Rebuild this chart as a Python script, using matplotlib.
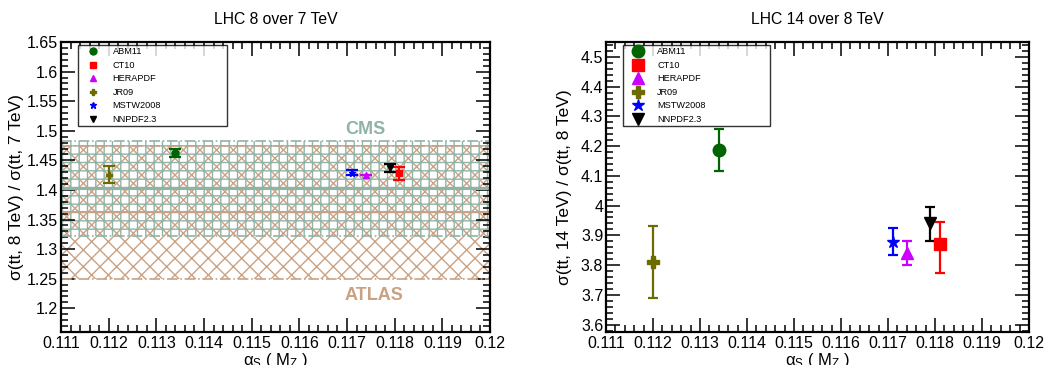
import matplotlib
matplotlib.use("Agg")
import matplotlib.pyplot as plt
from matplotlib.ticker import MultipleLocator, FuncFormatter
from matplotlib.lines import Line2D

plt.rcParams['font.family'] = ['Liberation Sans', 'DejaVu Sans']
plt.rcParams['mathtext.default'] = 'regular'
plt.rcParams['hatch.linewidth'] = 1.0

pdfs = ["ABM11", "CT10", "HERAPDF", "JR09", "MSTW2008", "NNPDF2.3"]
colors = ["#006400", "#ff0000", "#cc00ff", "#6b6b00", "#0000ff", "#000000"]
markers = ["o", "s", "^", "P", "*", "v"]
alphas = [0.1134, 0.1181, 0.1174, 0.1120, 0.1171, 0.1179]

# LHC 8/7 ratios
r87 = [1.463, 1.428, 1.426, 1.425, 1.429, 1.437]
r87_lo = [0.007, 0.011, 0.0, 0.014, 0.004, 0.007]
r87_hi = [0.007, 0.010, 0.0, 0.015, 0.004, 0.007]

# LHC 14/8 ratios
r148 = [4.188, 3.870, 3.841, 3.809, 3.879, 3.940]
r148_lo = [0.072, 0.098, 0.040, 0.121, 0.045, 0.058]
r148_hi = [0.070, 0.076, 0.041, 0.121, 0.046, 0.056]

# Experimental bands (8/7): low, central, high
cms_band = (1.322, 1.402, 1.482)
atlas_band = (1.249, 1.362, 1.475)

fig = plt.figure(figsize=(10.52, 3.65), dpi=100)
W, H = 1052, 365
ax1 = fig.add_axes([61 / W, 1 - 332 / H, (490 - 61) / W, (332 - 42) / H])
ax2 = fig.add_axes([606 / W, 1 - 332 / H, (1029 - 606) / W, (332 - 42) / H])

fmt = FuncFormatter(lambda v, p: "%g" % round(v, 6))


def style(ax, ymaj, ymin):
    ax.set_xlim(0.111, 0.12)
    ax.xaxis.set_major_locator(MultipleLocator(0.001))
    ax.xaxis.set_minor_locator(MultipleLocator(0.0002))
    ax.yaxis.set_major_locator(MultipleLocator(ymaj))
    ax.yaxis.set_minor_locator(MultipleLocator(ymin))
    ax.xaxis.set_major_formatter(fmt)
    ax.yaxis.set_major_formatter(fmt)
    ax.tick_params(which='both', direction='in', top=True, right=True,
                   width=1.1, labelsize=11.5)
    ax.tick_params(axis='y', pad=2)
    ax.tick_params(axis='x', pad=3)
    ax.tick_params(which='major', length=10)
    ax.tick_params(which='minor', length=5)
    for s in ax.spines.values():
        s.set_linewidth(1.6)
    ax.set_xlabel(r"$\alpha_S$ ( $M_Z$ )", fontsize=12, labelpad=0)


def legend(ax, ms):
    handles = [Line2D([], [], ls='none', marker=markers[i], color=colors[i], ms=ms)
               for i in range(len(pdfs))]
    leg = ax.legend(handles, pdfs, loc='upper left',
                    bbox_to_anchor=(0.04, 0.71, 0.347, 0.278), mode='expand',
                    fontsize=6.6, frameon=True, fancybox=False, edgecolor='black',
                    labelspacing=0.49, handletextpad=0.65, borderpad=0.2,
                    borderaxespad=0.0, handlelength=2.9, handleheight=0.7)
    leg.get_frame().set_linewidth(1.0)
    leg.set_zorder(5)


# Left panel
ax = ax1
style(ax, 0.05, 0.01)
ax.set_ylim(1.16, 1.65)
green = "#8fb3a6"
tan = "#c9a284"
ax.fill_between([0.111, 0.12], atlas_band[0], atlas_band[2], facecolor='none',
                edgecolor=tan, hatch='xx', linewidth=0, zorder=1)
ax.fill_between([0.111, 0.12], cms_band[0], cms_band[2], facecolor='none',
                edgecolor=green, hatch='++', linewidth=0, zorder=1.5)
ax.axhline(atlas_band[1], color=tan, lw=1.5, zorder=1.6)
ax.axhline(cms_band[1], color=green, lw=1.5, zorder=1.6)
for yv in (atlas_band[0], atlas_band[2]):
    ax.axhline(yv, color=tan, lw=1.2, ls='-.', zorder=1.6)
for yv in (cms_band[0], cms_band[2]):
    ax.axhline(yv, color=green, lw=1.2, ls='-.', zorder=1.6)
ax.text(0.11738, 1.502, "CMS", color=green, fontsize=13, fontweight='bold',
        ha='center', va='center')
ax.text(0.11757, 1.221, "ATLAS", color=tan, fontsize=13, fontweight='bold',
        ha='center', va='center')
for i in range(len(pdfs)):
    ax.errorbar(alphas[i], r87[i], yerr=[[r87_lo[i]], [r87_hi[i]]],
                fmt=markers[i], color=colors[i], ms=5, capsize=4,
                elinewidth=1.6, capthick=1.6, zorder=3)
ax.set_ylabel(r"σ(tt, 8 TeV) / σ(tt, 7 TeV)", fontsize=12.5, labelpad=2)
ax.set_title("LHC 8 over 7 TeV", fontsize=11.3, pad=13)
legend(ax, 5)

# Right panel
ax = ax2
style(ax, 0.1, 0.02)
ax.set_ylim(3.575, 4.55)
for i in range(len(pdfs)):
    ax.errorbar(alphas[i], r148[i], yerr=[[r148_lo[i]], [r148_hi[i]]],
                fmt=markers[i], color=colors[i], ms=9, capsize=3.8,
                elinewidth=1.6, capthick=1.6, zorder=3)
ax.set_ylabel(r"σ(tt, 14 TeV) / σ(tt, 8 TeV)", fontsize=12.5, labelpad=6)
ax.set_title("LHC 14 over 8 TeV", fontsize=11.3, pad=13)
legend(ax, 9)

fig.savefig("out.png", dpi=100)
